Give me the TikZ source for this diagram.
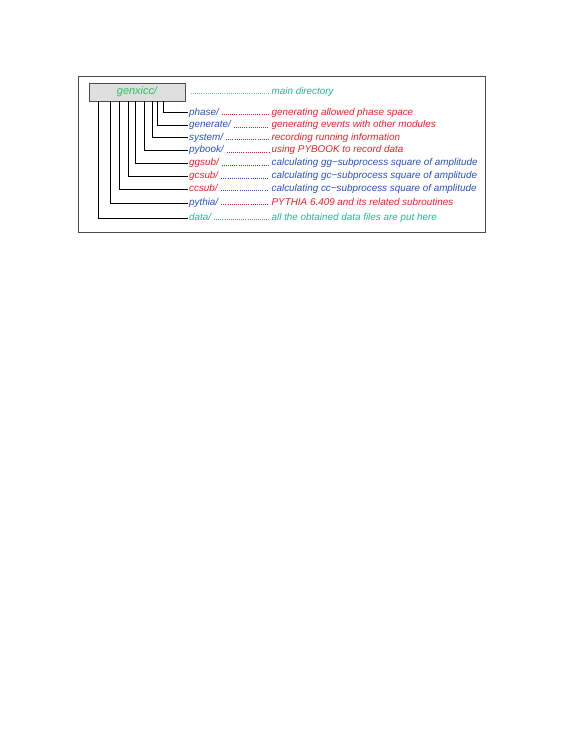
\documentclass[tikz,border=0pt]{standalone}
\usepackage{fontspec}
\setmainfont{Liberation Sans}
\usetikzlibrary{calc}
\definecolor{cblue}{RGB}{40,80,190}
\definecolor{cred}{RGB}{240,30,40}
\definecolor{cteal}{RGB}{30,185,150}
\definecolor{cgreen}{RGB}{40,190,90}
\definecolor{cframe}{gray}{0.3}
\begin{document}
\begin{tikzpicture}[x=1.0534pt,y=-1.0534pt,
  txt/.style={font=\fontsize{10.4}{12}\selectfont\itshape},
  lab/.style={txt, anchor=base west, inner sep=1pt, text height=7.5pt, text depth=2.2pt},
  desc/.style={txt, anchor=base west, inner sep=1pt},
  conn/.style={draw=black, line width=0.9pt},
  dots/.style={line width=0.75pt, dash pattern=on 0.75pt off 1.45pt}]
\useasboundingbox (0,0) rectangle (581,752);
\draw[cframe, line width=0.9pt] (78,76) rectangle (485,232);
\node[draw=cframe, fill=gray!25, line width=0.6pt, minimum width=101.1pt, minimum height=19pt,
      inner sep=0pt, text=cgreen, font=\fontsize{11.5}{13}\selectfont\itshape] (root) at (137,92) {genxicc/};
\coordinate (mds) at (191,94.5);
\node[desc, text=cteal] (md) at (270.5,94.5) {main directory};
\draw[dots, draw=cteal!70] ([yshift=0.7pt]mds) -- ([xshift=-2pt,yshift=0.7pt]md.base west);
\foreach \n/\y/\xo/\lc/\dc/\d in {
  phase/112/75/cblue/cred/generating allowed phase space,
  generate/124.7/68.7/cblue/cred/generating events with other modules,
  system/137.2/63.3/cblue/cred/recording running information,
  pybook/149.7/55.3/cblue/cred/using PYBOOK to record data,
  ggsub/162.7/47/cred/cblue/calculating gg−subprocess square of amplitude,
  gcsub/175.7/39.3/cred/cblue/calculating gc−subprocess square of amplitude,
  ccsub/188.5/30.7/cred/cblue/calculating cc−subprocess square of amplitude,
  pythia/202.5/21.7/cblue/cred/PYTHIA 6.409 and its related subroutines,
  data/217.5/10/cteal/cteal/all the obtained data files are put here}{
  \node[lab, text=\lc] (\n) at (188,\y+3) {\n/};
  \node[desc, text=\dc] (d\n) at (270.5,\y+3) {\d};
  \draw[conn] ($(root.south west)+(\xo,0)$) |- (\n.west);
  \draw[dots, draw=\dc] ([xshift=2pt,yshift=0.7pt]\n.base east) -- ([xshift=-2pt,yshift=0.7pt]d\n.base west);
}
\end{tikzpicture}
\end{document}
